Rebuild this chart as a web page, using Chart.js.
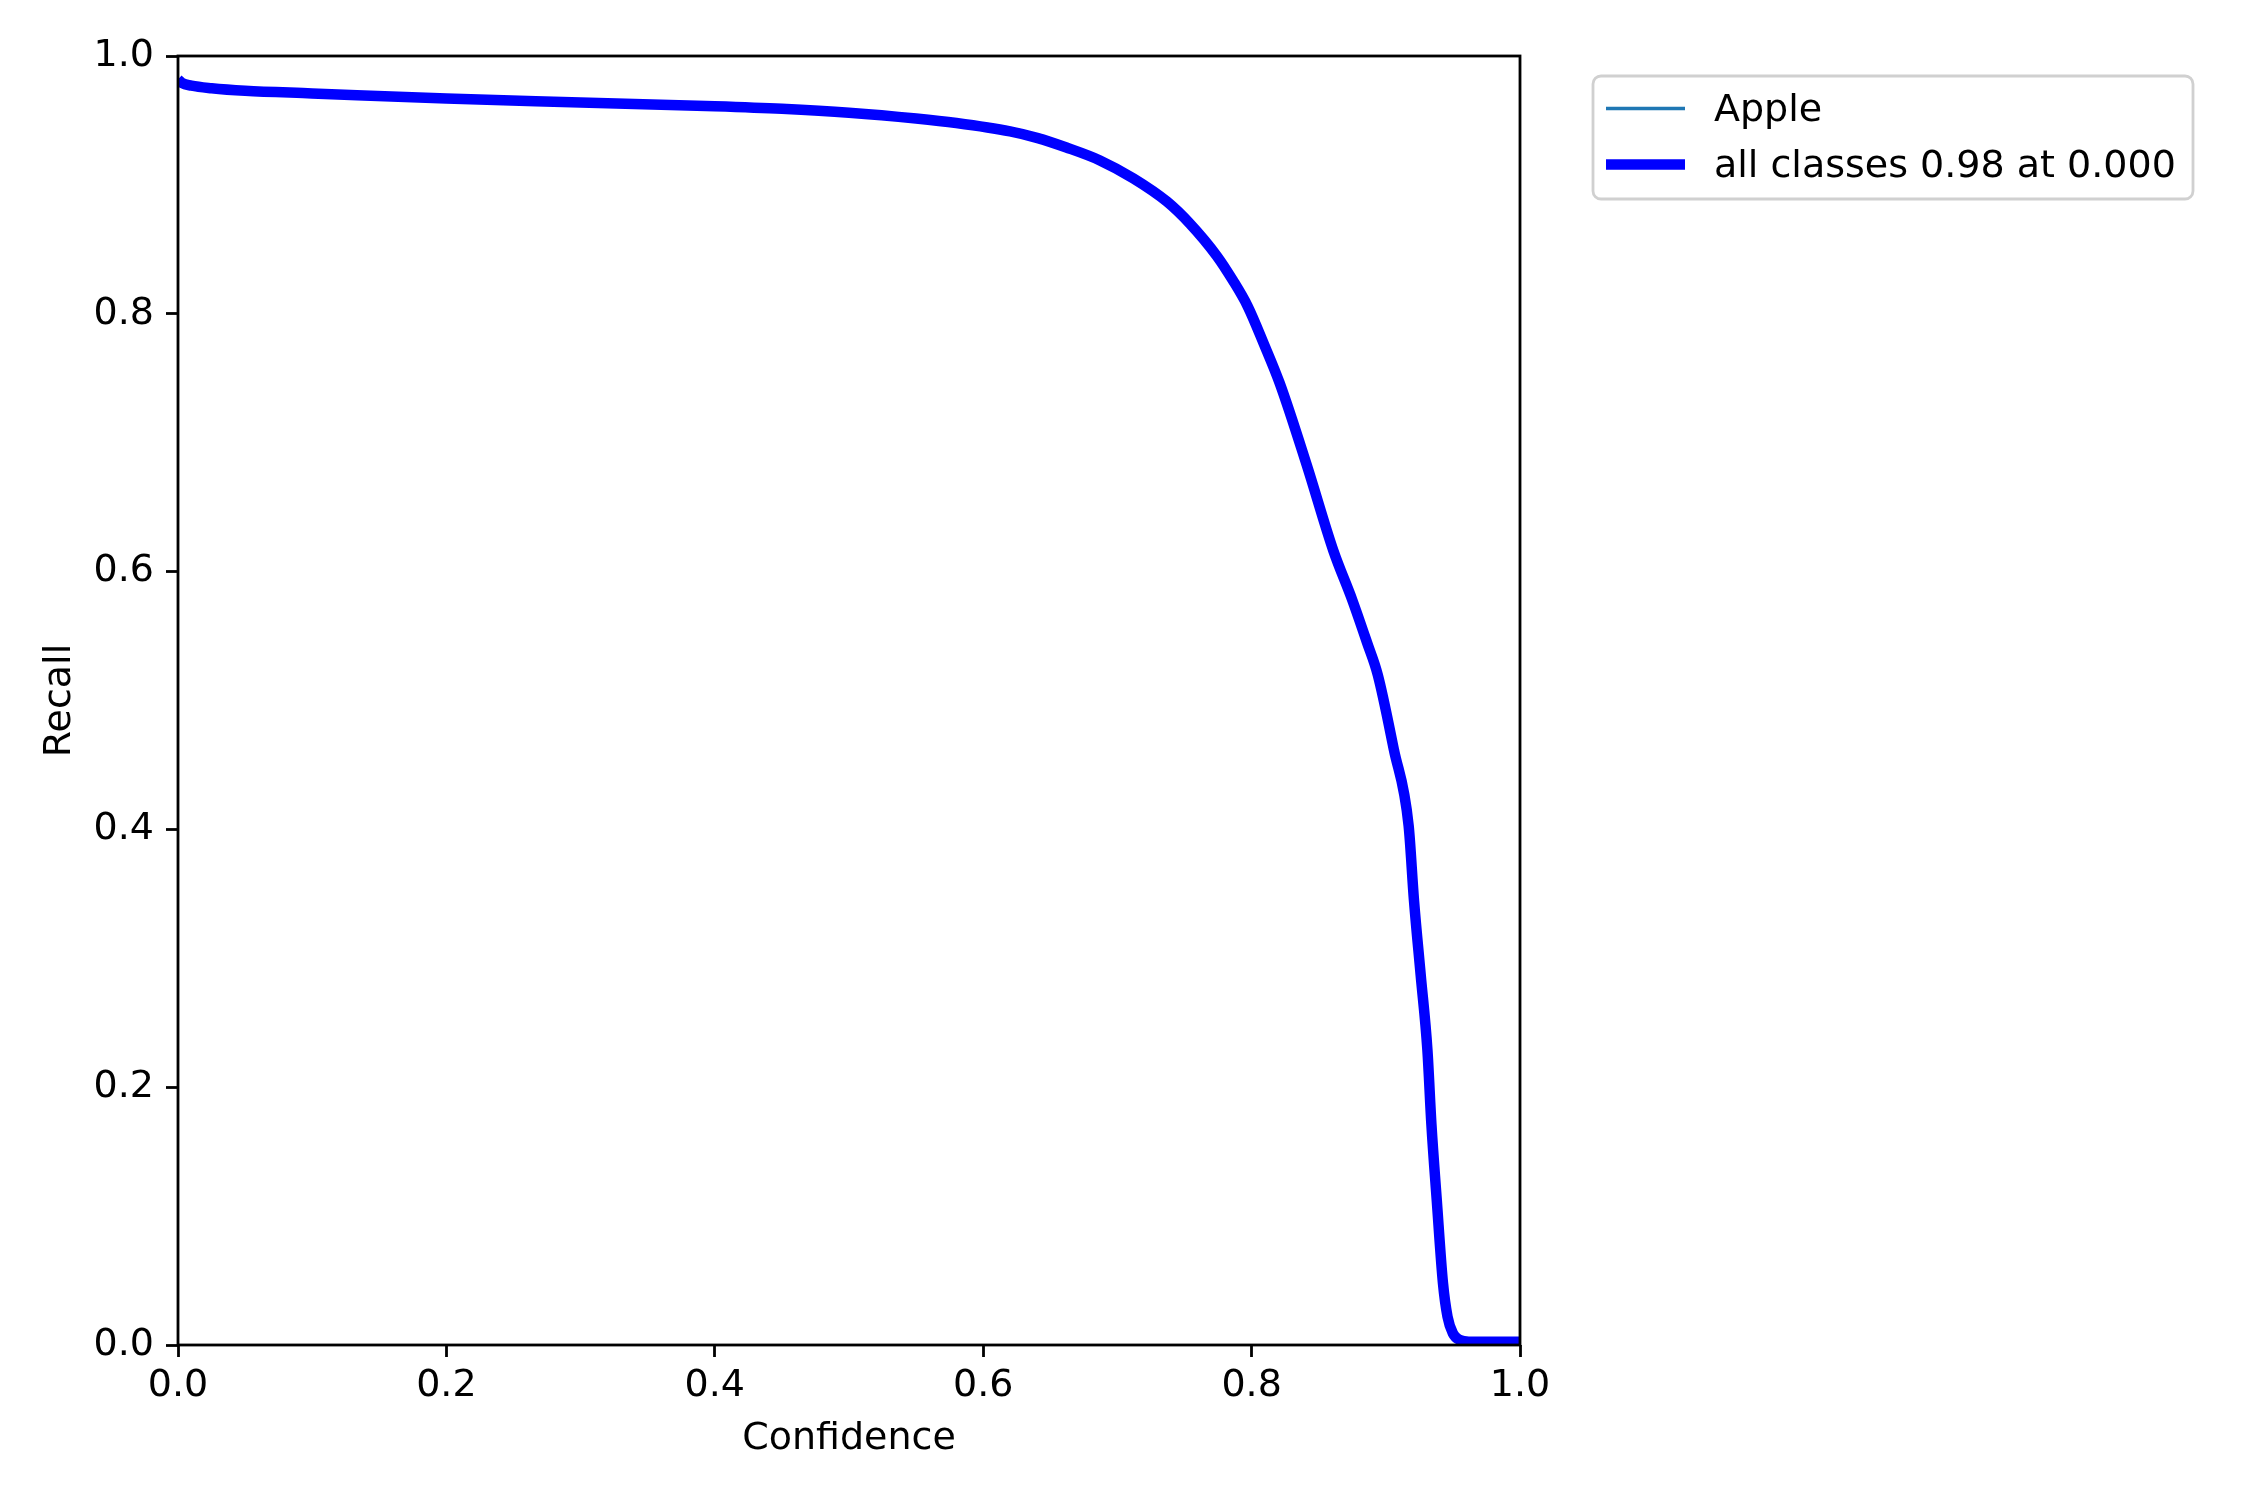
<!DOCTYPE html>
<html>
<head>
<meta charset="utf-8">
<script src="https://cdn.jsdelivr.net/npm/chart.js@4/dist/chart.umd.min.js"></script>
<style>
  html, body { margin: 0; padding: 0; background: #ffffff; }
  canvas { display: block; }
</style>
</head>
<body>
<canvas id="recallChart" width="2250" height="1500"></canvas>
<script>
// recall vs confidence
var confidence = [0.000, 0.003, 0.010, 0.025, 0.05, 0.10, 0.20, 0.30, 0.40, 0.45, 0.50, 0.55, 0.58, 0.62, 0.64, 0.662,
                  0.687, 0.712, 0.737, 0.754, 0.774, 0.786, 0.797, 0.809, 0.821, 0.841, 0.861, 0.875, 0.886, 0.894,
                  0.906, 0.917, 0.921, 0.926, 0.931, 0.934, 0.938, 0.9426, 0.946, 0.950, 0.955, 0.962, 1.000];
var recallAll = [0.982, 0.979, 0.977, 0.975, 0.973, 0.971, 0.967, 0.964, 0.961, 0.959, 0.956, 0.9515, 0.948, 0.9415, 0.9365, 0.929,
                 0.919, 0.905, 0.887, 0.870, 0.845, 0.826, 0.806, 0.777, 0.746, 0.683, 0.616, 0.578, 0.545, 0.520,
                 0.462, 0.403, 0.345, 0.287, 0.229, 0.171, 0.112, 0.048, 0.022, 0.009, 0.004, 0.0026, 0.0026];
var recallApple = recallAll.slice(); // single class, same curve
var seriesLabels = ['Apple', 'all classes 0.98 at 0.000'];
var tickValues = [0, 0.2, 0.4, 0.6, 0.8, 1.0];

function toPoints(xs, ys) {
    var pts = [];
    for (var i = 0; i < xs.length; i++) pts.push({x: xs[i], y: ys[i]});
    return pts;
}

var FONT = 'DejaVu Sans';

// axes frame on all four sides, like matplotlib spines
var framePlugin = {
    id: 'frame',
    afterDatasetsDraw: function(chart) {
        var a = chart.chartArea, ctx = chart.ctx;
        ctx.save();
        ctx.strokeStyle = '#000000';
        ctx.lineWidth = 2.8;
        ctx.strokeRect(a.left, a.top, a.right - a.left, a.bottom - a.top);
        ctx.restore();
    }
};

// legend box outside the axes, upper left corner
var legendPlugin = {
    id: 'sideLegend',
    afterDraw: function(chart) {
        var ctx = chart.ctx;
        var x0 = 1593, y0 = 76, w = 600, h = 123;
        ctx.save();
        ctx.strokeStyle = '#d0d0d0';
        ctx.lineWidth = 2.8;
        ctx.fillStyle = 'rgba(255,255,255,0.8)';
        ctx.beginPath();
        ctx.roundRect(x0, y0, w, h, 8);
        ctx.fill();
        ctx.stroke();
        var rows = [108.5, 164.5];
        // legend follows dataset index order (Apple first)
        chart.data.datasets.forEach(function(ds, i) {
            ctx.strokeStyle = ds.borderColor;
            ctx.lineWidth = ds.borderWidth;
            ctx.lineCap = 'butt';
            ctx.beginPath();
            ctx.moveTo(1606, rows[i]);
            ctx.lineTo(1685, rows[i]);
            ctx.stroke();
            ctx.fillStyle = '#000000';
            ctx.font = '38px "' + FONT + '"';
            ctx.textBaseline = 'middle';
            ctx.textAlign = 'left';
            ctx.fillText(ds.label, 1714, rows[i] + 3);
        });
        ctx.restore();
    }
};

var ctx = document.getElementById('recallChart').getContext('2d');
var chart = new Chart(ctx, {
    type: 'line',
    data: {
        datasets: [
            {
                label: seriesLabels[0],
                data: toPoints(confidence, recallApple),
                borderColor: '#1f77b4',
                borderWidth: 3.5,
                pointRadius: 0,
                fill: false,
                order: 2,
                cubicInterpolationMode: 'monotone'
            },
            {
                label: seriesLabels[1],
                data: toPoints(confidence, recallAll),
                borderColor: '#0000ff',
                borderWidth: 10.5,
                pointRadius: 0,
                fill: false,
                order: 1,
                cubicInterpolationMode: 'monotone'
            }
        ]
    },
    options: {
        responsive: false,
        animation: false,
        devicePixelRatio: 1,
        layout: { padding: { top: 56, right: 730, left: 0, bottom: 0 } },
        plugins: {
            legend: { display: false },
            tooltip: { enabled: false }
        },
        scales: {
            x: {
                type: 'linear',
                min: 0, max: 1,
                afterBuildTicks: function(scale) {
                    scale.ticks = tickValues.map(function(v) { return {value: v}; });
                },
                afterFit: function(scale) { scale.height = 155; },
                ticks: {
                    color: '#000000',
                    padding: 6,
                    maxRotation: 0,
                    font: { family: FONT, size: 38 },
                    callback: function(v) { return v.toFixed(1); }
                },
                grid: { drawOnChartArea: false, drawTicks: true, tickLength: 12, tickColor: '#000000', tickWidth: 2.8 },
                border: { display: false },
                title: { display: true, text: 'Confidence', color: '#000000', padding: { top: 0, bottom: 38 },
                         font: { family: FONT, size: 38 } }
            },
            y: {
                type: 'linear',
                min: 0, max: 1,
                afterBuildTicks: function(scale) {
                    scale.ticks = tickValues.map(function(v) { return {value: v}; });
                },
                afterFit: function(scale) { scale.width = 178; },
                ticks: {
                    color: '#000000',
                    padding: 12,
                    font: { family: FONT, size: 38 },
                    callback: function(v) { return v.toFixed(1); }
                },
                grid: { drawOnChartArea: false, drawTicks: true, tickLength: 12, tickColor: '#000000', tickWidth: 2.8 },
                border: { display: false },
                title: { display: true, text: 'Recall', color: '#000000', padding: { top: 37, bottom: 0 },
                         font: { family: FONT, size: 38 } }
            }
        }
    },
    plugins: [framePlugin, legendPlugin]
});
</script>
</body>
</html>
